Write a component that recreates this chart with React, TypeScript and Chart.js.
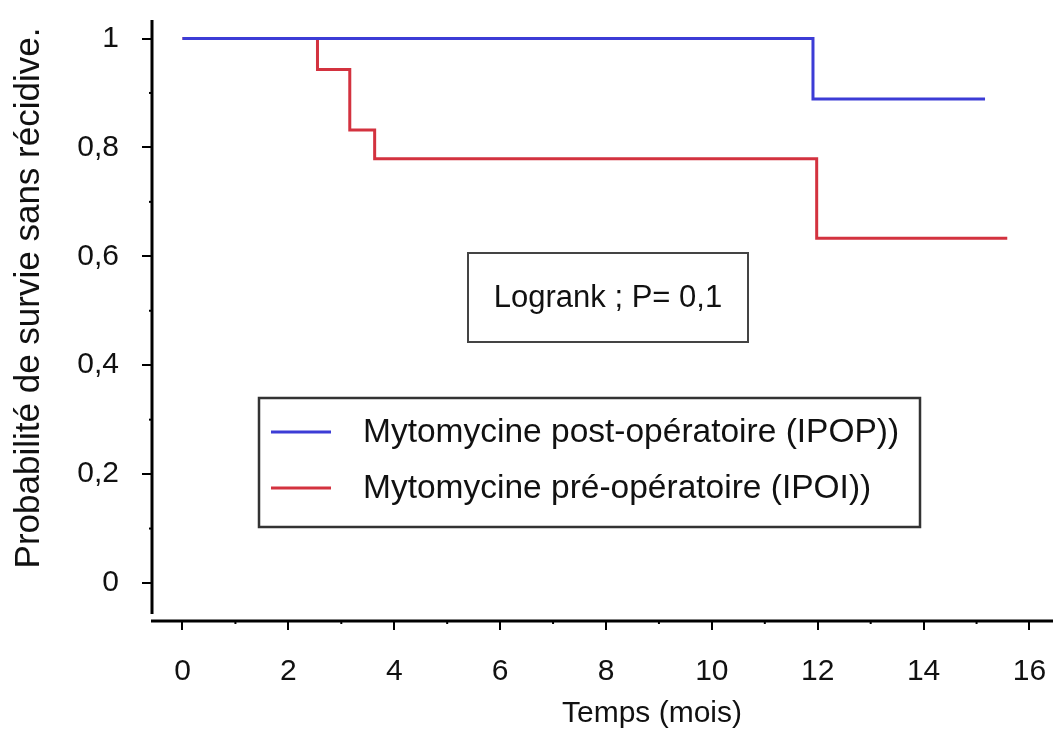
import React, { useEffect, useRef } from 'react';
import { Chart, registerables } from 'chart.js';
Chart.register(...registerables);

const FONT = '"Liberation Sans", Arial, Helvetica, sans-serif';

// Kaplan-Meier curves (time in months, survival probability)
const postTimes = [0, 11.91, 15.16];
const postSurvival = [1, 0.889, 0.889];
const preTimes = [0, 2.55, 3.16, 3.63, 11.98, 15.58];
const preSurvival = [1, 0.943, 0.832, 0.779, 0.633, 0.633];

const xTickValues = [0, 2, 4, 6, 8, 10, 12, 14, 16];
const xMinorTickValues = [1, 3, 5, 7, 9, 11, 13, 15];
const yTickValues = [0, 0.2, 0.4, 0.6, 0.8, 1];
const yMinorTickValues = [0.1, 0.3, 0.5, 0.7, 0.9];

const seriesLabels = ['Mytomycine post-opératoire (IPOP))', 'Mytomycine pré-opératoire (IPOI))'];
const seriesColors = ['#3c3cd6', '#d3323f'];
const xTitle = 'Temps (mois)';
const yTitle = 'Probabilité de survie sans récidive.';
const annotationText = 'Logrank ; P= 0,1';

const fmt = (v: number) => (v === 0 ? '0' : v === 1 ? '1' : v.toFixed(1).replace('.', ','));

const zeroPad = (s: any) => {
  s.paddingTop = 0;
  s.paddingBottom = 0;
  s.paddingLeft = 0;
  s.paddingRight = 0;
};

const decorPlugin = {
  id: 'decor',
  afterDraw(chart: any) {
    const { ctx, chartArea } = chart;
    const x = chart.scales.x;
    const y = chart.scales.y;
    ctx.save();
    // axis lines
    ctx.strokeStyle = '#000';
    ctx.lineWidth = 3;
    ctx.beginPath();
    ctx.moveTo(chartArea.left, chartArea.top);
    ctx.lineTo(chartArea.left, y.getPixelForValue(-0.057));
    ctx.stroke();
    ctx.beginPath();
    ctx.moveTo(chartArea.left - 1, chartArea.bottom);
    ctx.lineTo(chartArea.right, chartArea.bottom);
    ctx.stroke();
    // minor ticks
    ctx.lineWidth = 2;
    yMinorTickValues.forEach((v) => {
      const py = y.getPixelForValue(v);
      ctx.beginPath();
      ctx.moveTo(chartArea.left - 3, py);
      ctx.lineTo(chartArea.left, py);
      ctx.stroke();
    });
    xMinorTickValues.forEach((v) => {
      const px = x.getPixelForValue(v);
      ctx.beginPath();
      ctx.moveTo(px, chartArea.bottom);
      ctx.lineTo(px, chartArea.bottom + 3);
      ctx.stroke();
    });

    // axis titles
    ctx.fillStyle = '#111';
    ctx.textAlign = 'center';
    ctx.textBaseline = 'middle';
    ctx.font = `30px ${FONT}`;
    ctx.fillText(xTitle, 652, 714);
    ctx.save();
    ctx.translate(29, 298);
    ctx.rotate(-Math.PI / 2);
    ctx.font = `35px ${FONT}`;
    ctx.fillText(yTitle, 0, 0);
    ctx.restore();

    // Logrank annotation box
    ctx.strokeStyle = '#444';
    ctx.lineWidth = 2;
    ctx.strokeRect(468, 253, 280, 89);
    ctx.font = `31px ${FONT}`;
    ctx.fillStyle = '#111';
    ctx.fillText(annotationText, 608, 298);

    // legend box
    ctx.strokeStyle = '#333';
    ctx.lineWidth = 2.5;
    ctx.strokeRect(259, 398, 661, 129);
    const rows = [432, 488];
    ctx.textAlign = 'left';
    ctx.font = `33.5px ${FONT}`;
    seriesLabels.forEach((label, i) => {
      ctx.strokeStyle = seriesColors[i];
      ctx.lineWidth = 3;
      ctx.beginPath();
      ctx.moveTo(271, rows[i]);
      ctx.lineTo(331, rows[i]);
      ctx.stroke();
      ctx.fillStyle = '#111';
      ctx.fillText(label, 363, rows[i] + 1);
    });
    ctx.restore();
  },
};

export default function App() {
  const ref = useRef<HTMLCanvasElement | null>(null);
  useEffect(() => {
    document.body.style.margin = '0';
    const canvas = ref.current;
    if (!canvas) return;
    const chart = new Chart(canvas, {
      type: 'line',
      data: {
        datasets: [
          {
            label: seriesLabels[0],
            data: postTimes.map((t, i) => ({ x: t, y: postSurvival[i] })),
            borderColor: seriesColors[0],
            borderWidth: 3,
            stepped: 'before',
            pointRadius: 0,
            fill: false,
          },
          {
            label: seriesLabels[1],
            data: preTimes.map((t, i) => ({ x: t, y: preSurvival[i] })),
            borderColor: seriesColors[1],
            borderWidth: 3,
            stepped: 'before',
            pointRadius: 0,
            fill: false,
          },
        ],
      },
      options: {
        responsive: false,
        animation: false,
        devicePixelRatio: 1,
        layout: { padding: { top: 20, right: 0, left: 0, bottom: 0 } },
        plugins: { legend: { display: false }, tooltip: { enabled: false } },
        scales: {
          x: {
            type: 'linear',
            min: -0.576,
            max: 16.444,
            afterBuildTicks: (s: any) => {
              s.ticks = xTickValues.map((v) => ({ value: v }));
            },
            afterFit: (s: any) => {
              s.height = 115;
              zeroPad(s);
            },
            ticks: {
              autoSkip: false,
              maxRotation: 0,
              padding: 24,
              color: '#111',
              font: { family: FONT, size: 30 },
              callback: (v: any) => String(v),
            },
            grid: { display: true, drawOnChartArea: false, drawTicks: true, tickLength: 9, lineWidth: 2, color: '#000' },
            border: { display: false },
          },
          y: {
            type: 'linear',
            min: -0.0698,
            max: 1.034,
            afterBuildTicks: (s: any) => {
              s.ticks = yTickValues.map((v) => ({ value: v }));
            },
            afterFit: (s: any) => {
              s.width = 152;
              zeroPad(s);
            },
            ticks: {
              autoSkip: false,
              padding: 23,
              color: '#111',
              font: { family: FONT, size: 30 },
              callback: (v: any) => fmt(Number(v)),
            },
            grid: { display: true, drawOnChartArea: false, drawTicks: true, tickLength: 10, lineWidth: 2, color: '#000' },
            border: { display: false },
          },
        },
      },
      plugins: [decorPlugin],
    });
    return () => chart.destroy();
  }, []);
  return (
    <div style={{ position: 'absolute', left: 0, top: 0, width: 1053, height: 736, background: '#fff' }}>
      <canvas ref={ref} width={1053} height={736} style={{ width: 1053, height: 736, display: 'block' }} />
    </div>
  );
}
